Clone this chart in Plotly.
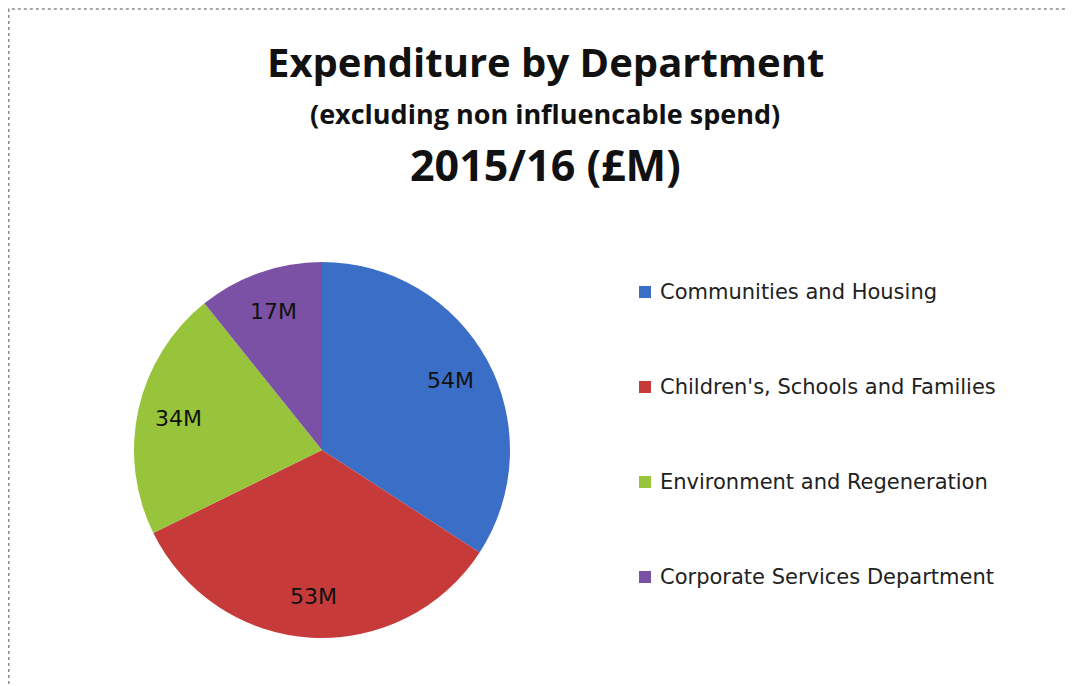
import math
import plotly.graph_objects as go

# data
departments = ["Communities and Housing", "Children's, Schools and Families",
               "Environment and Regeneration", "Corporate Services Department"]
spend = [54, 53, 34, 17]
colors = ["#3B6EC6", "#C63B39", "#98C43C", "#7B51A6"]

W, H = 1073, 686
OFF = 8  # page body margin


def px(x):
    return (x - OFF) / W


def py(y):
    return 1 - (y - OFF) / H


fig = go.Figure()

cx, cy, R = 322, 450, 188
fig.add_trace(go.Pie(
    labels=departments,
    values=spend,
    sort=False,
    direction="clockwise",
    rotation=0,
    marker=dict(colors=colors, line=dict(width=0)),
    textinfo="none",
    domain=dict(x=[px(cx - R), px(cx + R)], y=[py(cy + R), py(cy - R)]),
    showlegend=False,
    hoverinfo="label+value",
))

# slice labels placed out toward the rim, like the original
total = sum(spend)
cum = 0
for v in spend:
    mid = (cum + v / 2) / total * 2 * math.pi
    cum += v
    lx = cx + 0.78 * R * math.sin(mid)
    ly = cy - 0.78 * R * math.cos(mid)
    fig.add_annotation(x=px(lx), y=py(ly), xref="paper", yref="paper",
                       text=f"{v}M", showarrow=False,
                       xanchor="center", yanchor="middle",
                       font=dict(family="DejaVu Sans", size=22, color="#111111"))

# legend drawn by hand so the spacing matches
leg_x, leg_y0, leg_step = 645, 292, 95
for i, (name, col) in enumerate(zip(departments, colors)):
    yy = leg_y0 + i * leg_step
    fig.add_shape(type="rect", xref="paper", yref="paper",
                  x0=px(leg_x - 6), x1=px(leg_x + 6),
                  y0=py(yy + 6), y1=py(yy - 6),
                  fillcolor=col, line=dict(width=0))
    fig.add_annotation(x=px(leg_x + 13), y=py(yy), xref="paper", yref="paper",
                       text=name, showarrow=False, xanchor="left", yanchor="middle",
                       font=dict(family="DejaVu Sans", size=21, color="#222222"))

# titles
titles = [("Expenditure by Department", 40, 62),
          ("(excluding non influencable spend)", 27, 113),
          ("2015/16 (£M)", 43, 165)]
for txt, sz, yy in titles:
    fig.add_annotation(x=px(545), y=py(yy), xref="paper", yref="paper",
                       text="<b>" + txt + "</b>", showarrow=False,
                       xanchor="center", yanchor="middle",
                       font=dict(family="Open Sans", size=sz, color="#111111"))

# dashed chart border
fig.add_shape(type="rect", xref="paper", yref="paper",
              x0=0.8 / W, x1=1.02, y0=-0.02, y1=1 - 1 / H,
              line=dict(color="#8a8a8a", width=1.5, dash="dot"))

fig.update_layout(
    width=W, height=H,
    margin=dict(l=0, r=0, t=0, b=0),
    paper_bgcolor="white",
    plot_bgcolor="white",
)

fig.write_html("out.html")
